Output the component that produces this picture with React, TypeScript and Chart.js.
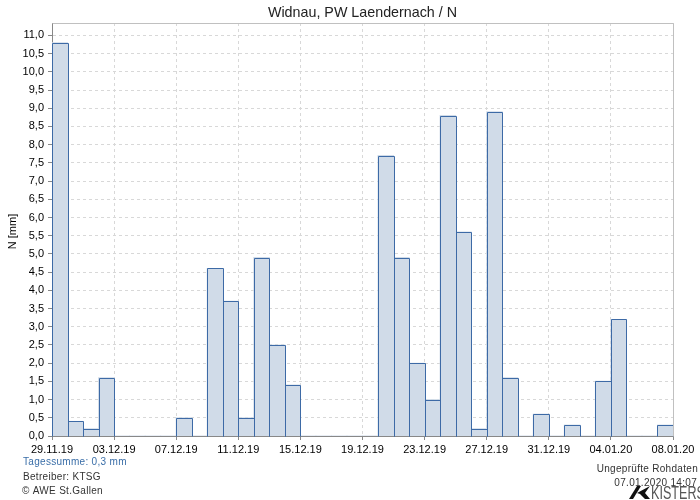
import React, { useEffect, useRef } from "react";
import { Chart, registerables } from "chart.js";

Chart.register(...registerables);

const dayLabels = [
  "29.11.19","30.11.19","01.12.19","02.12.19","03.12.19","04.12.19","05.12.19","06.12.19",
  "07.12.19","08.12.19","09.12.19","10.12.19","11.12.19","12.12.19","13.12.19","14.12.19",
  "15.12.19","16.12.19","17.12.19","18.12.19","19.12.19","20.12.19","21.12.19","22.12.19",
  "23.12.19","24.12.19","25.12.19","26.12.19","27.12.19","28.12.19","29.12.19","30.12.19",
  "31.12.19","01.01.20","02.01.20","03.01.20","04.01.20","05.01.20","06.01.20","07.01.20",
];
const precipitation = [
  10.8, 0.4, 0.2, 1.6, 0, 0, 0, 0,
  0.5, 0, 4.6, 3.7, 0.5, 4.9, 2.5, 1.4,
  0, 0, 0, 0, 0, 7.7, 4.9, 2.0,
  1.0, 8.8, 5.6, 0.2, 8.9, 1.6, 0, 0.6,
  0, 0.3, 0, 1.5, 3.2, 0, 0, 0.3,
];
const xTickLabels = [
  "29.11.19","03.12.19","07.12.19","11.12.19","15.12.19","19.12.19",
  "23.12.19","27.12.19","31.12.19","04.01.20","08.01.20",
];
const yTickValues = [
  0, 0.5, 1, 1.5, 2, 2.5, 3, 3.5, 4, 4.5, 5, 5.5, 6, 6.5, 7, 7.5, 8, 8.5, 9, 9.5, 10, 10.5, 11,
];
const yMax = 11.34;

const FONT = "'Liberation Sans', Arial, sans-serif";
const BAR_FILL = "#d0dbe8";
const BAR_LINE = "#3d6aa6";

const barOutlinePlugin = {
  id: "barOutline",
  afterDatasetsDraw(chart: any) {
    const ctx = chart.ctx;
    const meta = chart.getDatasetMeta(0);
    ctx.save();
    ctx.strokeStyle = BAR_LINE;
    ctx.lineWidth = 1;
    meta.data.forEach((el: any, i: number) => {
      if (!precipitation[i]) return;
      const p = el.getProps(["x", "y", "base", "width"], true);
      const l = Math.round(p.x - p.width / 2) + 0.5;
      const r = Math.round(p.x + p.width / 2) + 0.5;
      const t = Math.round(p.y) + 0.5;
      const b = Math.round(p.base) + 0.5;
      ctx.beginPath();
      ctx.moveTo(l, b);
      ctx.lineTo(l, t);
      ctx.lineTo(r, t);
      ctx.lineTo(r, b);
      ctx.stroke();
    });
    ctx.restore();
  },
};

const decorPlugin = {
  id: "decor",
  beforeDraw(chart: any) {
    const ctx = chart.ctx;
    ctx.save();
    ctx.fillStyle = "#ffffff";
    ctx.fillRect(0, 0, chart.width, chart.height);
    ctx.restore();
  },
  afterDraw(chart: any) {
    const ctx = chart.ctx;
    const a = chart.chartArea;
    ctx.save();
    // top & right frame
    ctx.strokeStyle = "#c0c0c0";
    ctx.lineWidth = 1;
    ctx.beginPath();
    ctx.moveTo(Math.round(a.left) + 0.5, Math.round(a.top) + 0.5);
    ctx.lineTo(Math.round(a.right) + 0.5, Math.round(a.top) + 0.5);
    ctx.lineTo(Math.round(a.right) + 0.5, Math.round(a.bottom) + 0.5);
    ctx.stroke();

    // title
    ctx.fillStyle = "#222";
    ctx.font = `14.3px ${FONT}`;
    ctx.textAlign = "center";
    ctx.textBaseline = "middle";
    ctx.fillText("Widnau, PW Laendernach / N", (a.left + a.right) / 2, 13);

    // y title
    ctx.save();
    ctx.translate(13, (a.top + a.bottom) / 2 + 2);
    ctx.rotate(-Math.PI / 2);
    ctx.font = `11px ${FONT}`;
    ctx.fillStyle = "#000";
    ctx.fillText("N [mm]", 0, 0);
    ctx.restore();

    // footer left
    ctx.textAlign = "left";
    (ctx as any).letterSpacing = "0.3px";
    ctx.font = `10px ${FONT}`;
    ctx.fillStyle = "#3a6ea8";
    ctx.fillText("Tagessumme: 0,3 mm", 23, 462);
    ctx.fillStyle = "#333";
    ctx.fillText("Betreiber: KTSG", 23, 477);
    ctx.fillText("\u00A9 AWE St.Gallen", 22, 491);

    // footer right
    ctx.textAlign = "right";
    ctx.fillText("Ungepr\u00FCfte Rohdaten", 698, 469);
    ctx.fillText("07.01.2020 14:07", 697, 483);
    (ctx as any).letterSpacing = "0px";

    // logo mark
    ctx.fillStyle = "#111";
    ctx.beginPath();
    ctx.moveTo(629, 499);
    ctx.lineTo(637, 486);
    ctx.lineTo(641, 486);
    ctx.lineTo(633, 499);
    ctx.closePath();
    ctx.fill();
    ctx.beginPath();
    ctx.moveTo(637, 493);
    ctx.lineTo(650, 486);
    ctx.lineTo(645, 493);
    ctx.lineTo(650, 499);
    ctx.lineTo(645, 499);
    ctx.lineTo(640, 494);
    ctx.closePath();
    ctx.fill();
    ctx.fillStyle = "#555";
    ctx.textAlign = "left";
    ctx.textBaseline = "alphabetic";
    ctx.save();
    ctx.translate(651, 499);
    ctx.scale(0.7, 1);
    ctx.font = `18px ${FONT}`;
    ctx.fillText("KISTERS", 0, 0);
    ctx.restore();
    ctx.restore();
  },
};

export default function App() {
  const ref = useRef<HTMLCanvasElement | null>(null);
  useEffect(() => {
    if (!ref.current) return;
    const chart = new Chart(ref.current, {
      type: "bar",
      data: {
        datasets: [
          {
            label: "N",
            data: precipitation.map((v, i) => ({ x: i + 0.5, y: v, d: dayLabels[i] })),
            backgroundColor: BAR_FILL,
            borderWidth: 0,
            inflateAmount: 0.5,
            barPercentage: 1,
            categoryPercentage: 1,
          },
        ],
      },
      options: {
        responsive: false,
        animation: false,
        layout: { padding: { left: 0, top: 23, right: 27, bottom: 0 } },
        plugins: { legend: { display: false }, title: { display: false }, tooltip: { enabled: false } },
        scales: {
          x: {
            type: "linear",
            min: 0,
            max: 40,
            offset: false,
            ticks: {
              stepSize: 4,
              autoSkip: false,
              maxRotation: 0,
              padding: 3,
              color: "#000",
              font: { family: FONT, size: 11 },
              callback: (v: any) => xTickLabels[Math.round(Number(v) / 4)] ?? "",
            },
            grid: {
              offset: false,
              color: "#d8d8d8",
              tickColor: "#888",
              tickBorderDash: [],
              tickLength: 4,
            } as any,
            border: { display: true, color: "#888", dash: [3, 3] } as any,
            afterFit: (s: any) => {
              s.height = 64;
            },
          } as any,
          y: {
            type: "linear",
            min: 0,
            max: yMax,
            afterBuildTicks: (s: any) => {
              s.ticks = yTickValues.map((v) => ({ value: v }));
            },
            ticks: {
              padding: 4,
              color: "#000",
              font: { family: FONT, size: 11 },
              callback: (v: any) => Number(v).toFixed(1).replace(".", ","),
            },
            grid: {
              color: "#d8d8d8",
              tickColor: "#888",
              tickBorderDash: [],
              tickLength: 4,
            } as any,
            border: { display: true, color: "#888", dash: [3, 3] } as any,
            afterFit: (s: any) => {
              s.width = 52;
            },
          } as any,
        },
      },
      plugins: [barOutlinePlugin, decorPlugin],
    } as any);
    return () => chart.destroy();
  }, []);
  return (
    <div style={{ position: "absolute", left: 0, top: 0, width: 700, height: 500 }}>
      <canvas ref={ref} width={700} height={500} style={{ width: 700, height: 500 }} />
    </div>
  );
}
